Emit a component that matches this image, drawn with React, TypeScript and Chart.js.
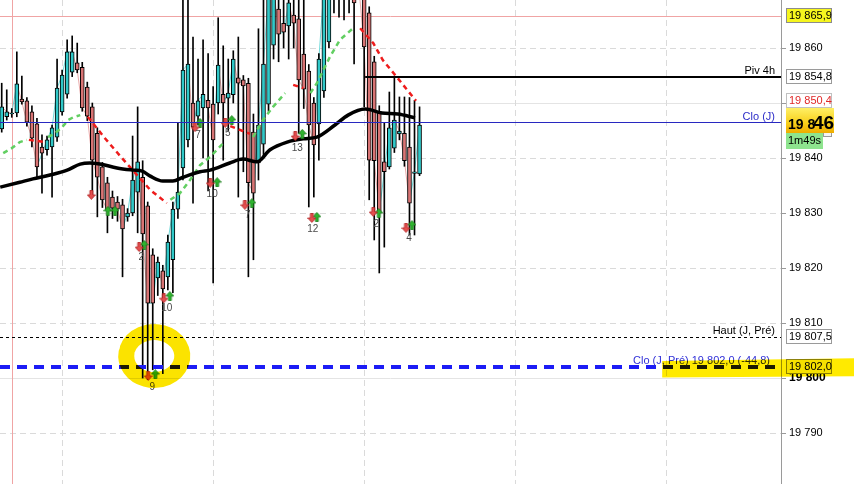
import React, { useEffect, useRef } from 'react';
import { Chart, registerables } from 'chart.js';

Chart.register(...registerables);

// ---------- candles (index 0..83) ----------
const opens = [19845.3,19847.5,19848.0,19848.2,19850.7,19850.4,19848.4,19846.2,19842.0,19841.5,
19842.0,19843.8,19848.4,19851.6,19855.6,19857.3,19856.5,19852.9,19849.3,19844.5,
19838.4,19835.5,19832.9,19832.0,19831.5,19829.3,19830.0,19833.8,19836.5,19831.3,
19822.4,19818.2,19819.5,19818.4,19821.5,19830.7,19838.2,19843.3,19850.0,19847.6,
19849.1,19850.5,19849.8,19850.0,19851.6,19850.9,19851.5,19854.6,19854.2,19853.6,
19844.7,19839.1,19842.5,19849.8,19860.5,19867.1,19864.5,19864.0,19866.0,19865.3,
19858.9,19855.8,19850.0,19846.2,19852.2,19861.1,19874.0,19871.0,19875.0,19872.0,
19873.0,19872.0,19871.5,19866.4,19857.5,19848.5,19839.3,19838.4,19841.8,19844.4,
19844.5,19842.0,19837.2,19837.1];
const highs = [19853.6,19852.4,19849.0,19859.3,19854.9,19851.0,19849.5,19847.2,19844.2,19844.0,
19846.0,19858.0,19856.0,19861.5,19862.2,19860.9,19857.4,19853.8,19850.0,19845.5,
19839.2,19836.5,19834.0,19833.0,19832.5,19830.8,19844.0,19849.3,19839.5,19832.0,
19823.5,19822.0,19820.5,19826.0,19832.0,19846.4,19872.0,19871.0,19862.0,19858.0,
19861.5,19859.0,19853.0,19865.5,19860.4,19858.0,19859.5,19862.0,19855.0,19854.5,
19848.0,19863.5,19871.0,19875.0,19876.0,19874.0,19870.0,19872.0,19871.0,19870.5,
19870.0,19857.0,19851.0,19859.0,19876.0,19877.0,19878.0,19877.0,19879.0,19876.0,
19876.0,19875.0,19874.0,19867.5,19858.5,19849.5,19846.4,19852.0,19854.9,19851.1,
19851.1,19851.0,19850.5,19849.3];
const lows = [19844.7,19846.9,19847.4,19847.5,19849.8,19845.8,19842.0,19836.5,19833.6,19840.5,
19832.9,19843.0,19847.8,19850.9,19854.8,19855.5,19848.5,19846.8,19832.9,19829.3,
19831.0,19826.4,19829.0,19828.5,19818.4,19828.5,19829.5,19826.4,19800.0,19799.7,
19801.5,19815.0,19800.8,19816.0,19815.5,19829.0,19836.0,19842.0,19831.8,19846.0,
19840.0,19834.0,19817.3,19848.0,19839.6,19845.0,19850.0,19832.9,19837.5,19818.4,
19821.5,19836.0,19840.0,19848.5,19858.0,19857.5,19860.0,19858.0,19860.0,19844.5,
19849.0,19831.1,19832.9,19839.6,19851.0,19860.0,19866.4,19865.6,19865.1,19866.4,
19857.1,19869.0,19849.3,19832.4,19825.1,19819.1,19823.8,19838.0,19841.0,19843.3,
19838.5,19826.0,19826.0,19836.8];
const closes = [19849.3,19848.4,19848.1,19853.5,19850.2,19846.5,19843.6,19838.4,19840.9,19843.3,
19845.5,19852.7,19855.1,19859.3,19859.3,19856.0,19849.1,19847.6,19839.6,19836.5,
19832.4,19830.5,19830.9,19830.7,19827.1,19830.0,19836.0,19839.3,19826.2,19813.6,
19813.6,19821.1,19816.2,19824.7,19830.7,19833.8,19856.0,19857.1,19845.6,19850.4,
19851.6,19849.1,19843.3,19856.9,19850.0,19851.8,19858.0,19853.6,19853.1,19835.5,
19833.6,19846.0,19857.1,19870.5,19871.5,19862.5,19862.9,19868.2,19864.5,19854.2,
19852.5,19846.0,19842.4,19858.0,19871.0,19873.0,19871.0,19874.0,19872.0,19870.5,
19868.2,19870.5,19860.2,19839.6,19839.5,19830.2,19837.5,19845.5,19846.9,19844.9,
19839.5,19831.8,19837.5,19846.0];

// ---------- moving average (black) ----------
const maX = [-0.3,3.6,6.2,9.6,13,15.6,17.5,19.5,22.9,26.1,27.9,29.5,32,34,36,39.4,41.4,45.3,47.9,50.7,53.3,56.7,59.9,62.6,66.2,68.8,72.2,75.5,78.7,82.1];
const maY = [19834.7,19835.6,19836.2,19836.9,19837.8,19838.9,19839.1,19838.9,19838.2,19837.8,19837.6,19836.7,19835.8,19835.8,19836.5,19837.5,19837.8,19839.1,19839.8,19839.3,19841.5,19842.9,19843.5,19843.8,19846.0,19847.8,19848.9,19848.2,19848.0,19847.3];

// ---------- trend stop (green = up, red = down), null breaks ----------
const upX = [0.3,2.0,3.6,5.0,5.1, 9.2,10.6,12,13.2,14.2,15.6,15.7, 33.5,35.4,37.4,39.4,41.4,44,44.1, 49.9,51.9,53.9,56.3,56.4, 61.3,62.6,65.2,67.2,69.8];
const upY = [19840.9,19841.8,19842.9,19843.3,null, 19843.8,19844.5,19845.6,19846.9,19847.4,19847.8,null, 19832.4,19833.6,19836.0,19838.7,19840.2,19842.7,null, 19843.8,19846.9,19849.3,19851.8,null, 19851.8,19853.6,19858.4,19861.5,19863.6];
const downX = [5.4,8.6,8.7, 17.1,20.5,23.5,26.5,29.5,32.8,32.9, 45.4,49.3,49.4, 57.9,59.9,60.0, 71.2,73.8,75.7,78.5,82.3];
const downY = [19843.3,19842.9,null, 19847.5,19843.6,19840.4,19837.3,19834.2,19831.8,null, 19845.8,19844.4,null, 19853.3,19852.7,null, 19863.6,19860.9,19857.8,19854.7,19850.4];

// ---------- signal arrows & counts ----------
const sellX = [17.8,27.3,29.1,32.2,38.4,41.4,44.4,48.3,58.3,61.6,73.8,80.3];
const sellY = [19833.3,19823.8,19800.4,19814.5,19845.6,19835.5,19846.4,19831.5,19844.0,19829.1,19830.2,19827.3];
const buyX = [21.1,22.5,28.3,30.5,33.4,39.4,42.8,45.7,49.7,59.7,62.6,74.9,81.5];
const buyY = [19830.4,19830.4,19824.2,19800.7,19814.9,19846.4,19835.6,19846.9,19831.8,19844.4,19829.3,19830.0,19827.8];
const countX = [27.7,29.9,32.8,39.0,41.8,44.9,48.9,58.7,61.8,74.4,80.9];
const countY = [19822.0,19798.4,19812.7,19844.2,19833.5,19844.5,19829.6,19841.8,19827.1,19828.0,19825.5];
const countText = ['2','9','10','7','10','5','7','13','12','2','4'];

// ---------- levels ----------
const levelPrices = [19865.9, 19854.8, 19850.4, 19846.5, 19807.5, 19802.0];
const levelTags = ['19 865,9', '19 854,8', '19 850,4', '19 846', '19 807,5', '19 802,0'];
const levelNames = ['', 'Piv 4h', '', 'Clo (J)', 'Haut (J, Pré)', 'Clo (J, Pré) 19 802,0 (-44,8)'];
const timerText = '1m49s';
const timeGridX = [12, 42, 72, 102, 132];
const sessionX = 2.05;
const pivotStartX = 72.2;

const X_MIN = -0.34;
const X_MAX = 154.8;
const Y_MIN = 19780.73;
const Y_MAX = 19868.73;

const FONT = "'Liberation Sans', Arial, sans-serif";
const CYAN = '#30c8c8';
const PINK = '#d87474';

function makeArrow(color: string, edge: string, down: boolean) {
  const c = document.createElement('canvas');
  c.width = 9; c.height = 10;
  const g = c.getContext('2d')!;
  g.beginPath();
  if (down) {
    g.moveTo(3, 0.5); g.lineTo(6, 0.5); g.lineTo(6, 5); g.lineTo(8.5, 5); g.lineTo(4.5, 9.5); g.lineTo(0.5, 5); g.lineTo(3, 5);
  } else {
    g.moveTo(3, 9.5); g.lineTo(6, 9.5); g.lineTo(6, 5); g.lineTo(8.5, 5); g.lineTo(4.5, 0.5); g.lineTo(0.5, 5); g.lineTo(3, 5);
  }
  g.closePath();
  g.fillStyle = color; g.fill();
  g.strokeStyle = edge; g.lineWidth = 0.8; g.stroke();
  return c;
}

function box(ctx: CanvasRenderingContext2D, x: number, y: number, w: number, h: number, fill: string | CanvasGradient, stroke: string | null) {
  ctx.fillStyle = fill;
  ctx.fillRect(x, y, w, h);
  if (stroke) {
    ctx.strokeStyle = stroke;
    ctx.lineWidth = 1;
    ctx.strokeRect(x + 0.5, y + 0.5, w - 1, h - 1);
  }
}

const overlay = {
  id: 'overlay',
  beforeDatasetsDraw(chart: any) {
    const { ctx, chartArea: a, scales } = chart;
    const x = scales.x, y = scales.y;
    ctx.save();
    // horizontal grid
    y.ticks.forEach((t: any) => {
      if (Math.abs(t.value % 10) > 0.001) return;
      const py = Math.round(y.getPixelForValue(t.value)) + 0.5;
      ctx.beginPath();
      if (t.value % 50 === 0) { ctx.setLineDash([]); ctx.strokeStyle = '#e4e4e4'; }
      else { ctx.setLineDash([6, 4]); ctx.strokeStyle = '#dadada'; }
      ctx.lineWidth = 1;
      ctx.moveTo(a.left, py); ctx.lineTo(a.right, py); ctx.stroke();
    });
    // vertical time grid
    ctx.setLineDash([6, 4]);
    ctx.strokeStyle = '#dadada';
    timeGridX.forEach((v) => {
      const px = Math.round(x.getPixelForValue(v)) + 0.5;
      ctx.beginPath(); ctx.moveTo(px, a.top); ctx.lineTo(px, a.bottom); ctx.stroke();
    });
    ctx.setLineDash([]);
    // session line
    ctx.strokeStyle = '#f0a4a4';
    const sx = Math.round(x.getPixelForValue(sessionX)) + 0.5;
    ctx.beginPath(); ctx.moveTo(sx, a.top); ctx.lineTo(sx, a.bottom); ctx.stroke();
    // pink level
    const py0 = Math.round(y.getPixelForValue(levelPrices[0])) + 0.5;
    ctx.beginPath(); ctx.moveTo(a.left, py0); ctx.lineTo(a.right, py0); ctx.stroke();
    ctx.restore();
  },
  afterDatasetsDraw(chart: any) {
    const { ctx, chartArea: a, scales } = chart;
    const x = scales.x, y = scales.y;
    ctx.save();
    // Piv 4h
    const pPiv = Math.round(y.getPixelForValue(levelPrices[1]));
    ctx.strokeStyle = '#000'; ctx.lineWidth = 2;
    ctx.beginPath(); ctx.moveTo(x.getPixelForValue(pivotStartX), pPiv); ctx.lineTo(a.right, pPiv); ctx.stroke();
    // Clo (J)
    const pClo = Math.round(y.getPixelForValue(levelPrices[3])) + 0.5;
    ctx.strokeStyle = '#2828c0'; ctx.lineWidth = 1;
    ctx.beginPath(); ctx.moveTo(a.left, pClo); ctx.lineTo(a.right, pClo); ctx.stroke();
    // Haut (J, Pré)
    const pHaut = Math.round(y.getPixelForValue(levelPrices[4])) + 0.5;
    ctx.strokeStyle = '#000'; ctx.setLineDash([3, 3]);
    ctx.beginPath(); ctx.moveTo(a.left, pHaut); ctx.lineTo(a.right, pHaut); ctx.stroke();
    // Clo (J, Pré)
    const pPre = Math.round(y.getPixelForValue(levelPrices[5]));
    ctx.strokeStyle = '#1c1cf5'; ctx.lineWidth = 4; ctx.setLineDash([10, 7]);
    ctx.beginPath(); ctx.moveTo(a.left, pPre); ctx.lineTo(a.right, pPre); ctx.stroke();
    ctx.setLineDash([]);

    // level names
    ctx.font = `11px ${FONT}`;
    ctx.textAlign = 'right';
    ctx.textBaseline = 'alphabetic';
    ctx.fillStyle = '#000';
    ctx.fillText(levelNames[1], a.right - 6, pPiv - 3);
    ctx.fillStyle = '#2c2cc8';
    ctx.fillText(levelNames[3], a.right - 6, pClo - 3);
    ctx.fillStyle = '#000';
    ctx.fillText(levelNames[4], a.right - 6, pHaut - 4);
    ctx.fillStyle = '#3030d8';
    ctx.fillText(levelNames[5], a.right - 11, pPre - 3);

    // counts
    ctx.font = `10px ${FONT}`;
    ctx.textAlign = 'center';
    ctx.textBaseline = 'middle';
    ctx.fillStyle = '#4a4a4a';
    countText.forEach((t, i) => {
      ctx.fillText(t, x.getPixelForValue(countX[i]), y.getPixelForValue(countY[i]));
    });
    ctx.restore();
  },
  afterDraw(chart: any) {
    const { ctx, scales } = chart;
    const x = scales.x, y = scales.y;
    const L = 786;
    ctx.save();
    ctx.textAlign = 'left';
    ctx.textBaseline = 'middle';
    ctx.font = `11px ${FONT}`;
    const tagBox = (price: number, fill: string, stroke: string, color: string, text: string) => {
      const py = Math.round(y.getPixelForValue(price));
      box(ctx, L, py - 8, 46, 15, fill, stroke);
      ctx.fillStyle = color;
      ctx.font = `11px ${FONT}`;
      ctx.fillText(text, L + 3, py);
    };
    tagBox(levelPrices[0], '#f6f61e', '#8c8c8c', '#000', levelTags[0]);
    tagBox(levelPrices[1], '#ffffff', '#9a9a9a', '#000', levelTags[1]);
    tagBox(levelPrices[2], '#ffffff', '#c0c0c0', '#e02828', levelTags[2]);
    // small box peeking behind the last price
    box(ctx, 823, 128, 9, 9, '#f4f4f4', '#9a9a9a');
    // last price
    const pl = Math.round(y.getPixelForValue(levelPrices[3]));
    const grad = ctx.createLinearGradient(0, pl - 14, 0, pl + 11);
    grad.addColorStop(0, '#fff066');
    grad.addColorStop(0.6, '#f7cf1a');
    grad.addColorStop(1, '#eeac00');
    box(ctx, L, pl - 14, 48, 25, grad, null);
    ctx.fillStyle = '#000';
    ctx.textBaseline = 'alphabetic';
    ctx.font = `bold 14px ${FONT}`;
    ctx.fillText('19 8', L + 2, pl + 7);
    ctx.font = `bold 19px ${FONT}`;
    ctx.fillText('46', L + 27, pl + 7);
    // timer
    box(ctx, L, pl + 11, 37, 16, '#8ee48e', null);
    ctx.font = `11px ${FONT}`;
    ctx.textBaseline = 'middle';
    ctx.fillStyle = '#000';
    ctx.fillText(timerText, L + 2, pl + 19);
    tagBox(levelPrices[4], '#ffffff', '#9a9a9a', '#000', levelTags[4]);
    tagBox(levelPrices[5], '#f6f61e', '#8c8c8c', '#000', levelTags[5]);

    // highlighter marks
    ctx.globalCompositeOperation = 'multiply';
    ctx.fillStyle = '#ffea00';
    const hx = x.getPixelForValue(131.2);
    ctx.beginPath();
    ctx.moveTo(hx, y.getPixelForValue(19803.1));
    ctx.lineTo(chart.width, y.getPixelForValue(19803.6));
    ctx.lineTo(chart.width, y.getPixelForValue(19800.3));
    ctx.lineTo(hx, y.getPixelForValue(19800.1));
    ctx.closePath();
    ctx.fill();
    ctx.strokeStyle = '#fbe300';
    ctx.lineWidth = 16;
    ctx.lineCap = 'round';
    ctx.beginPath();
    const cx = x.getPixelForValue(30.3), cy = y.getPixelForValue(19804.0);
    ctx.ellipse(cx, cy, 28, 24, 0, Math.PI * 1.1, Math.PI * 3.05);
    ctx.stroke();
    ctx.restore();
  },
};

export default function App() {
  const ref = useRef<HTMLCanvasElement | null>(null);
  useEffect(() => {
    if (!ref.current) return;
    const idx = opens.map((_, i) => i);
    const redArrow = makeArrow('#e45050', '#b02020', true);
    const greenArrow = makeArrow('#2fb42f', '#1a7a1a', false);
    const chart = new Chart(ref.current, {
      type: 'bar',
      data: {
        datasets: [
          {
            type: 'line',
            data: idx.map((i) => ({ x: i, y: closes[i] })),
            borderWidth: 1,
            pointRadius: 0,
            segment: {
              borderColor: (c: any) => (c.p1.parsed.y >= c.p0.parsed.y ? 'rgba(64,206,206,0.75)' : 'rgba(226,140,140,0.75)'),
            },
            order: 6,
          } as any,
          {
            type: 'bar',
            data: idx.map((i) => ({ x: i, y: [lows[i], highs[i]] })),
            backgroundColor: '#000',
            borderWidth: 0,
            barThickness: 1,
            grouped: false,
            order: 5,
          } as any,
          {
            type: 'bar',
            data: idx.map((i) => ({ x: i, y: [opens[i], closes[i]] })),
            backgroundColor: idx.map((i) => (closes[i] >= opens[i] ? CYAN : PINK)),
            borderColor: '#000',
            borderWidth: 1,
            borderSkipped: false,
            barThickness: 4,
            minBarLength: 1,
            grouped: false,
            order: 4,
          } as any,
          {
            type: 'line',
            data: upX.map((v, i) => ({ x: v, y: upY[i] })),
            borderColor: '#62cf62',
            borderWidth: 2.5,
            borderDash: [5, 4],
            pointRadius: 0,
            spanGaps: false,
            order: 2,
          } as any,
          {
            type: 'line',
            data: downX.map((v, i) => ({ x: v, y: downY[i] })),
            borderColor: '#ee1c1c',
            borderWidth: 2.5,
            borderDash: [5, 4],
            pointRadius: 0,
            spanGaps: false,
            order: 2,
          } as any,
          {
            type: 'line',
            data: maX.map((v, i) => ({ x: v, y: maY[i] })),
            borderColor: '#000',
            borderWidth: 3.5,
            pointRadius: 0,
            cubicInterpolationMode: 'monotone',
            order: 1,
          } as any,
          {
            type: 'line',
            data: sellX.map((v, i) => ({ x: v, y: sellY[i] })),
            showLine: false,
            pointStyle: redArrow,
            pointRadius: 5,
            order: 0,
          } as any,
          {
            type: 'line',
            data: buyX.map((v, i) => ({ x: v, y: buyY[i] })),
            showLine: false,
            pointStyle: greenArrow,
            pointRadius: 5,
            order: 0,
          } as any,
        ],
      },
      options: {
        animation: false,
        responsive: false,
        devicePixelRatio: 1,
        layout: { padding: 0, autoPadding: false },
        plugins: { legend: { display: false }, tooltip: { enabled: false } },
        scales: {
          x: {
            type: 'linear',
            display: false,
            min: X_MIN,
            max: X_MAX,
            offset: false,
          },
          y: {
            position: 'right',
            min: Y_MIN,
            max: Y_MAX,
            afterFit: (s: any) => {
              s.width = 73;
              s.paddingTop = 0;
              s.paddingBottom = 0;
            },
            grid: { drawOnChartArea: false, tickLength: 5, color: '#9a9a9a' },
            border: { color: '#9a9a9a' },
            ticks: {
              stepSize: 10,
              includeBounds: true,
              padding: 3,
              color: '#000',
              font: (c: any) => ({
                family: FONT,
                size: c.tick && c.tick.value === 19800 ? 12 : 11,
                weight: c.tick && c.tick.value === 19800 ? 'bold' : 'normal',
              }),
              callback: (v: any) => {
                const n = Number(v);
                if (Math.abs(n - Math.round(n / 10) * 10) > 0.001) return null;
                const r = Math.round(n);
                return Math.floor(r / 1000) + ' ' + String(r % 1000).padStart(3, '0');
              },
            },
          },
        },
      } as any,
      plugins: [overlay],
    });
    return () => chart.destroy();
  }, []);
  return (
    <div style={{ position: 'absolute', left: 0, top: 0, width: 854, height: 484, background: '#fff' }}>
      <canvas ref={ref} width={854} height={484} style={{ width: 854, height: 484, display: 'block' }} />
    </div>
  );
}
